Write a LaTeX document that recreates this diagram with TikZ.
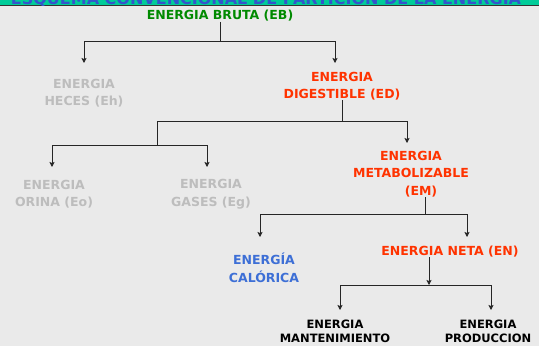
\documentclass[tikz,border=0pt]{standalone}
\usepackage{fontspec}
\setmainfont{DejaVu Sans}
\usepackage{tikz}
\usetikzlibrary{arrows.meta}

\definecolor{fondo}{RGB}{234,234,234}
\definecolor{banda}{RGB}{0,204,153}
\definecolor{titulo}{RGB}{51,85,204}
\definecolor{verde}{RGB}{0,138,0}
\definecolor{rojo}{RGB}{255,51,0}
\definecolor{gris}{RGB}{189,189,189}
\definecolor{azul}{RGB}{61,111,214}

\begin{document}
\begin{tikzpicture}[x=1pt,y=-1pt]
		% fondo y banda del titulo
		\fill[fondo] (0,0) rectangle (539,346);
		\useasboundingbox (0,0) rectangle (539,346);
		\fill[banda] (0,0) rectangle (539,5);
		\draw[black!80,line width=1.2pt] (0,5.6) -- (539,5.6);
		\begin{scope}
			\clip (0,0) rectangle (539,5);
			\node[anchor=base,inner sep=0,text=titulo,font=\fontsize{16}{18}\bfseries]
				(tit) at (266,4.5) {ESQUEMA CONVENCIONAL DE PARTICION DE LA ENERGIA};
		\end{scope}

		\begin{scope}[every node/.style={inner sep=0,align=center,font=\fontsize{12.5}{17.5}\bfseries}]
			\node[text=verde] (eb) at (220,16) {ENERGIA BRUTA (EB)};
			\node[text=gris] (eh) at (84,93) {ENERGIA\\HECES (Eh)};
			\node[text=rojo] (ed) at (342,86) {ENERGIA\\DIGESTIBLE (ED)};
			\node[text=gris] (eo) at (54,194) {ENERGIA\\ORINA (Eo)};
			\node[text=gris] (eg) at (211,194) {ENERGIA\\GASES (Eg)};
			\node[text=rojo] (em) at (411,174) {ENERGIA\\METABOLIZABLE\\\hspace*{20pt}(EM)};
			\node[text=azul] (cal) at (264,268) {ENERGÍA\\CALÓRICA};
			\node[text=rojo] (en) at (450,251.5) {ENERGIA NETA (EN)};
			\node[font=\fontsize{11.5}{14}\bfseries] (mt) at (335,331.5) {ENERGIA\\MANTENIMIENTO};
			\node[font=\fontsize{11.5}{14}\bfseries] (pr) at (488,331.5) {ENERGIA\\PRODUCCION};
		\end{scope}

		% uniones y puntas
		\coordinate (j1) at (220,41);
		\coordinate (eh-a) at (84,63);
		\coordinate (ed-a) at (335,63);
		\coordinate (j2) at (342,121);
		\coordinate (em-a) at (407,143);
		\coordinate (j3) at (157,145);
		\coordinate (eo-a) at (52,167);
		\coordinate (eg-a) at (207,167);
		\coordinate (j4) at (425,214);
		\coordinate (cal-a) at (260,237);
		\coordinate (en-a) at (467,237);
		\coordinate (j5) at (429,285);
		\coordinate (mt-a) at (340,310);
		\coordinate (pr-a) at (491,310);

		\begin{scope}[line width=0.9pt,draw=black!85,
		              >={Stealth[length=5pt,width=5pt,inset=1pt]}]
			\draw (eb) -- (j1);
			\draw[->] (j1) -| (eh-a);
			\draw[->] (j1) -| (ed-a);
			\draw (ed) -- (j2);
			\draw[->] (j2) -| (em-a);
			\draw (j2) -| (j3);
			\draw[->] (j3) -| (eo-a);
			\draw[->] (j3) -| (eg-a);
			\draw (em.south -| j4) -- (j4);
			\draw[->] (j4) -| (cal-a);
			\draw[->] (j4) -| (en-a);
			\draw[->] (en.south -| j5) -- (j5);
			\draw[->] (j5) -| (mt-a);
			\draw[->] (j5) -| (pr-a);
		\end{scope}
\end{tikzpicture}
\end{document}
